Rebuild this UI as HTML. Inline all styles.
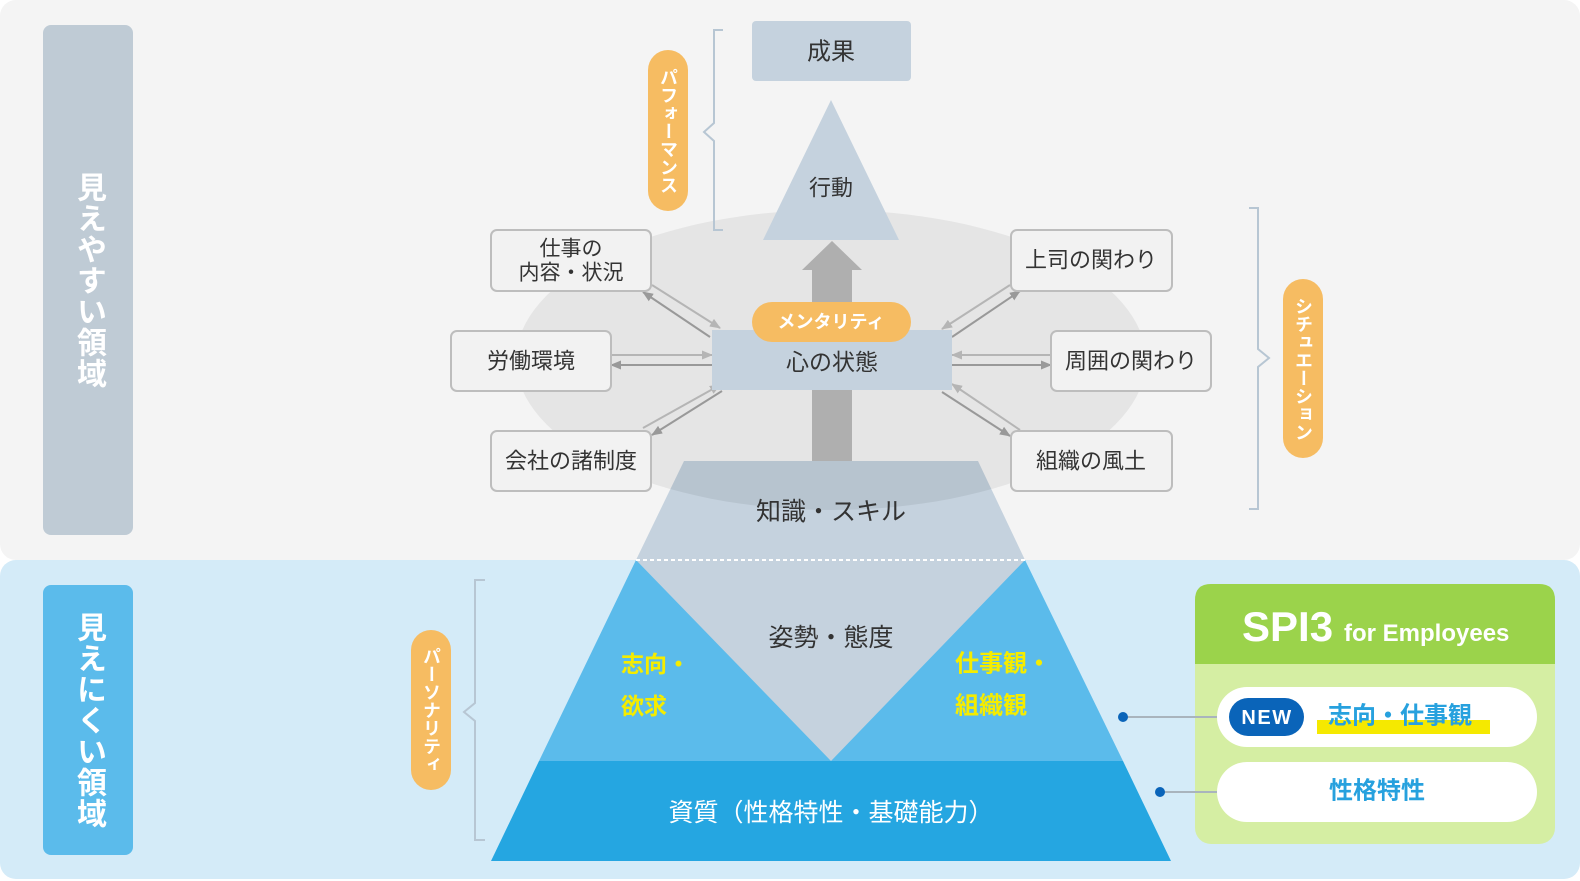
<!DOCTYPE html>
<html><head><meta charset="utf-8">
<style>
html,body{margin:0;padding:0;background:#fff;}
body{width:1580px;height:881px;overflow:hidden;position:relative;font-family:"Liberation Sans","Noto Sans CJK JP",sans-serif;}
svg{position:absolute;left:0;top:0;}
.v{position:absolute;writing-mode:vertical-rl;text-align:center;color:#fff;font-family:"Liberation Sans","Noto Sans CJK JP",sans-serif;white-space:nowrap;}
</style></head>
<body>
<svg width="1580" height="881" viewBox="0 0 1580 881" xmlns="http://www.w3.org/2000/svg" font-family="'Liberation Sans','Noto Sans CJK JP',sans-serif">
<defs>
<marker id="al" markerWidth="11" markerHeight="9" refX="10" refY="4.5" orient="auto" markerUnits="userSpaceOnUse"><path d="M0,0 L11,4.5 L0,9 z" fill="#b5b5b5"/></marker>
<marker id="ad" markerWidth="11" markerHeight="9" refX="10" refY="4.5" orient="auto" markerUnits="userSpaceOnUse"><path d="M0,0 L11,4.5 L0,9 z" fill="#999"/></marker>
<clipPath id="trap"><polygon points="684,461 978,461 1025,560 636,560"/></clipPath>
</defs>
<!-- panels -->
<rect x="0" y="0" width="1580" height="560" rx="16" fill="#f4f4f4"/>
<rect x="0" y="560" width="1580" height="319" rx="16" fill="#d4ebf8"/>
<rect x="43" y="25" width="90" height="510" rx="8" fill="#bfcbd5"/>
<rect x="43" y="585" width="90" height="270" rx="8" fill="#5bbbeb"/>

<!-- ellipse -->
<ellipse cx="831" cy="360" rx="315" ry="150" fill="#e5e5e5"/>

<!-- 成果 -->
<rect x="752" y="21" width="159" height="60" rx="4" fill="#c5d2de"/>
<text x="831" y="52" text-anchor="middle" dominant-baseline="central" font-size="24" fill="#333">成果</text>
<!-- 行動 triangle -->
<polygon points="831,100 899,240 763,240" fill="#c5d2de"/>
<text x="831" y="188" text-anchor="middle" dominant-baseline="central" font-size="22" fill="#333">行動</text>

<!-- pyramid -->
<polygon points="636,560 1025,560 1123,761 539,761" fill="#5bbbeb"/>
<polygon points="636,560 1025,560 831,761" fill="#c5d2de"/>
<polygon points="539,761 1123,761 1171,861 491,861" fill="#25a6e1"/>
<polygon points="684,461 978,461 1025,560 636,560" fill="#c5d2de"/>
<ellipse cx="831" cy="360" rx="315" ry="150" fill="rgba(0,0,0,0.065)" clip-path="url(#trap)"/>
<line x1="636" y1="560" x2="1025" y2="560" stroke="#fff" stroke-width="2" stroke-dasharray="4 3"/>

<!-- big arrow -->
<rect x="812" y="268" width="40" height="193" fill="#afafaf"/>
<polygon points="832,241 862,270 802,270" fill="#afafaf"/>

<!-- connectors -->
<g stroke-width="2" fill="none">
<line x1="652" y1="285" x2="720" y2="328" stroke="#b5b5b5" marker-end="url(#al)"/>
<line x1="710" y1="337" x2="643" y2="292" stroke="#999" marker-end="url(#ad)"/>
<line x1="611" y1="355" x2="712" y2="355" stroke="#b5b5b5" marker-end="url(#al)"/>
<line x1="712" y1="365" x2="611" y2="365" stroke="#999" marker-end="url(#ad)"/>
<line x1="643" y1="428" x2="720" y2="385" stroke="#b5b5b5" marker-end="url(#al)"/>
<line x1="722" y1="391" x2="652" y2="435" stroke="#999" marker-end="url(#ad)"/>
<line x1="1010" y1="285" x2="942" y2="329" stroke="#b5b5b5" marker-end="url(#al)"/>
<line x1="952" y1="337" x2="1020" y2="291" stroke="#999" marker-end="url(#ad)"/>
<line x1="1051" y1="355" x2="952" y2="355" stroke="#b5b5b5" marker-end="url(#al)"/>
<line x1="952" y1="365" x2="1051" y2="365" stroke="#999" marker-end="url(#ad)"/>
<line x1="1020" y1="430" x2="952" y2="384" stroke="#b5b5b5" marker-end="url(#al)"/>
<line x1="942" y1="392" x2="1010" y2="436" stroke="#999" marker-end="url(#ad)"/>
</g>

<!-- 心の状態 -->
<rect x="712" y="330" width="240" height="60" fill="#c5d2de"/>
<text x="832" y="362" text-anchor="middle" dominant-baseline="central" font-size="23" fill="#333">心の状態</text>
<rect x="752" y="302" width="159" height="40" rx="20" fill="#f6bc62"/>
<text x="831" y="322" text-anchor="middle" dominant-baseline="central" font-size="18" font-weight="bold" fill="#fff">メンタリティ</text>

<!-- nodes -->
<g fill="#f2f2f2" stroke="#bdbdbd" stroke-width="2">
<rect x="491" y="230" width="160" height="61" rx="6"/>
<rect x="451" y="331" width="160" height="60" rx="6"/>
<rect x="491" y="431" width="160" height="60" rx="6"/>
<rect x="1011" y="230" width="161" height="61" rx="6"/>
<rect x="1051" y="331" width="160" height="60" rx="6"/>
<rect x="1011" y="431" width="161" height="60" rx="6"/>
</g>
<g fill="#333" text-anchor="middle" dominant-baseline="central">
<text x="571" y="249" font-size="21">仕事の</text>
<text x="571" y="273" font-size="21">内容・状況</text>
<text x="531" y="361" font-size="22">労働環境</text>
<text x="571" y="461" font-size="22">会社の諸制度</text>
<text x="1091" y="260" font-size="22">上司の関わり</text>
<text x="1131" y="361" font-size="22">周囲の関わり</text>
<text x="1091" y="461" font-size="22">組織の風土</text>
</g>

<!-- pyramid texts -->
<text x="831" y="512" text-anchor="middle" dominant-baseline="central" font-size="25" fill="#333">知識・スキル</text>
<text x="831" y="638" text-anchor="middle" dominant-baseline="central" font-size="25" fill="#333">姿勢・態度</text>
<g fill="#f5ec00" font-weight="bold" font-size="23" dominant-baseline="central">
<text x="621" y="664">志向・</text>
<text x="621" y="706">欲求</text>
<text x="955" y="664" font-size="24">仕事観・</text>
<text x="955" y="706" font-size="24">組織観</text>
</g>
<text x="831" y="813" text-anchor="middle" dominant-baseline="central" font-size="25" fill="#fff">資質（性格特性・基礎能力）</text>

<!-- braces -->
<g stroke="#b7c6d3" stroke-width="2" fill="none">
<path d="M723,30 H714 V123 L704,132 L714,141 V230 H723"/>
<path d="M485,580 H475 V703 L464,712 L475,721 V840 H485"/>
<path d="M1249,208 H1258 V349 L1269,358 L1258,367 V509 H1249"/>
</g>
<!-- orange pills -->
<rect x="648" y="50" width="40" height="161" rx="20" fill="#f6bc62"/>
<rect x="1283" y="279" width="40" height="179" rx="20" fill="#f6bc62"/>
<rect x="411" y="630" width="40" height="160" rx="20" fill="#f6bc62"/>

<!-- SPI3 box -->
<rect x="1195" y="584" width="360" height="260" rx="16" fill="#d5eea3"/>
<path d="M1195,664 V600 Q1195,584 1211,584 H1539 Q1555,584 1555,600 V664 Z" fill="#9bd34b"/>
<text x="1242" y="641" font-family="'Liberation Sans',sans-serif" font-size="42" font-weight="bold" fill="#fff">SPI3</text>
<text x="1344" y="641" font-family="'Liberation Sans',sans-serif" font-size="24" font-weight="bold" fill="#fff">for Employees</text>

<line x1="1123" y1="717" x2="1217" y2="717" stroke="#a9b4bd" stroke-width="2"/>
<line x1="1160" y1="792" x2="1217" y2="792" stroke="#a9b4bd" stroke-width="2"/>
<circle cx="1123" cy="717" r="5" fill="#0a64b9"/>
<circle cx="1160" cy="792" r="5" fill="#0a64b9"/>

<rect x="1217" y="687" width="320" height="60" rx="30" fill="#fff"/>
<rect x="1217" y="762" width="320" height="60" rx="30" fill="#fff"/>
<rect x="1229" y="698" width="75" height="38" rx="19" fill="#0a64b9"/>
<text x="1267" y="718" text-anchor="middle" dominant-baseline="central" font-family="'Liberation Sans',sans-serif" font-size="20" font-weight="bold" fill="#fff" letter-spacing="1.5">NEW</text>
<rect x="1317" y="720" width="173" height="14" fill="#f5e900"/>
<text x="1328" y="716" dominant-baseline="central" font-size="24" font-weight="bold" fill="#27a1de">志向・仕事観</text>
<text x="1377" y="791" text-anchor="middle" dominant-baseline="central" font-size="24" font-weight="bold" fill="#27a1de">性格特性</text>
</svg>

<div class="v" style="left:43px;top:25px;width:90px;height:510px;line-height:90px;font-size:30px;font-weight:bold;letter-spacing:1px;">見えやすい領域</div>
<div class="v" style="left:43px;top:585px;width:90px;height:270px;line-height:90px;font-size:30px;font-weight:bold;letter-spacing:1px;">見えにくい領域</div>
<div class="v" style="left:648px;top:50px;width:40px;height:161px;line-height:40px;font-size:18px;font-weight:bold;">パフォーマンス</div>
<div class="v" style="left:1283px;top:279px;width:40px;height:179px;line-height:40px;font-size:18px;font-weight:bold;">シチュエーション</div>
<div class="v" style="left:411px;top:630px;width:40px;height:160px;line-height:40px;font-size:18px;font-weight:bold;">パーソナリティ</div>
</body></html>
